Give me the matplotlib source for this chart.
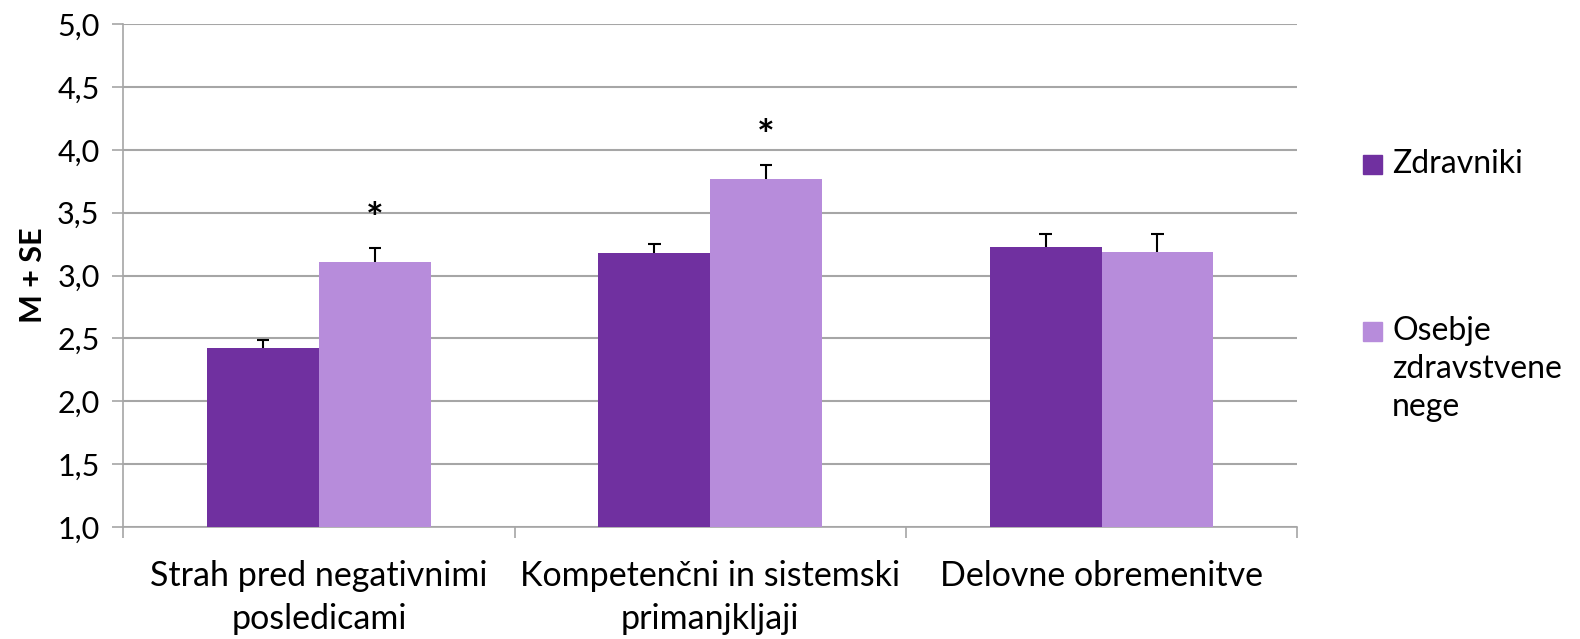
import matplotlib
matplotlib.use("Agg")
import matplotlib.pyplot as plt
from matplotlib.patches import Rectangle
import numpy as np

categories = ["Strah pred negativnimi\nposledicami",
              "Kompetenčni in sistemski\nprimanjkljaji",
              "Delovne obremenitve"]
series_names = ["Zdravniki", "Osebje\nzdravstvene\nnege"]
zdravniki_mean = [2.42, 3.18, 3.23]
zdravniki_se = [0.065, 0.07, 0.10]
osebje_mean = [3.11, 3.77, 3.19]
osebje_se = [0.11, 0.11, 0.14]
significant = [True, True, False]
y_ticks = [1.0, 1.5, 2.0, 2.5, 3.0, 3.5, 4.0, 4.5, 5.0]

plt.rcParams["font.family"] = ["Lato", "DejaVu Sans"]

fig = plt.figure(figsize=(15.8, 6.39), dpi=100)
ax = fig.add_axes([0.078, 0.1753, 0.743, 0.787])

x = np.arange(len(categories))
w = 0.286
grid_c = "#A6A6A6"
col1 = "#7030A0"
col2 = "#B78CDB"
colors = [col1, col2]

ax.bar(x - w / 2, zdravniki_mean, width=w, color=col1, zorder=3)
ax.bar(x + w / 2, osebje_mean, width=w, color=col2, zorder=3)

# upper-only error bars (M + SE)
cap = 0.016
for xs, m, se in [(x - w / 2, zdravniki_mean, zdravniki_se),
                  (x + w / 2, osebje_mean, osebje_se)]:
    m = np.asarray(m)
    top = m + np.asarray(se)
    ax.vlines(xs, m, top, color="black", linewidth=1.5, zorder=4)
    ax.hlines(top, xs - cap, xs + cap, color="black", linewidth=1.5, zorder=4)

for i, sig in enumerate(significant):
    if sig:
        ax.text(x[i] + w / 2, osebje_mean[i] + osebje_se[i] + 0.06, "*",
                ha="center", va="bottom", fontsize=30, fontweight="bold")

ax.set_xlim(-0.5, len(categories) - 0.5)
ax.set_ylim(1.0, 5.0)
ax.set_yticks(y_ticks)
ax.set_yticklabels([f"{v:.1f}".replace(".", ",") for v in y_ticks], fontsize=22)
ax.yaxis.grid(True, color=grid_c, linewidth=1.5, zorder=0)
ax.set_axisbelow(True)

ax.set_xticks(x)
ax.set_xticklabels(categories, fontsize=24.5, linespacing=1.4)
ax.tick_params(axis="x", length=0, pad=24)
ax.set_xticks(np.arange(len(categories) + 1) - 0.5, minor=True)
ax.tick_params(axis="x", which="minor", length=8, color=grid_c, width=1.2)
ax.tick_params(axis="y", length=8, color=grid_c, width=1.2, pad=9)

for s in ["top", "right"]:
    ax.spines[s].set_visible(False)
for s in ["left", "bottom"]:
    ax.spines[s].set_color(grid_c)
    ax.spines[s].set_linewidth(1.2)

ax.set_ylabel("M + SE", fontsize=22, fontweight="bold", labelpad=7)

# legend: square swatch aligned with the first line of each label
W, H = fig.get_size_inches() * fig.dpi
sq = 19
leg_x = 1363
leg_rows = [164, 331]
for name, c, yc in zip(series_names, colors, leg_rows):
    fig.patches.append(Rectangle(((leg_x) / W, 1 - (yc + sq / 2) / H), sq / W, sq / H,
                                 transform=fig.transFigure, color=c))
    fig.text((leg_x + sq + 10) / W, 1 - (yc - 15) / H, name, fontsize=23,
             ha="left", va="top", linespacing=1.33)

fig.savefig("out.png", dpi=100)
